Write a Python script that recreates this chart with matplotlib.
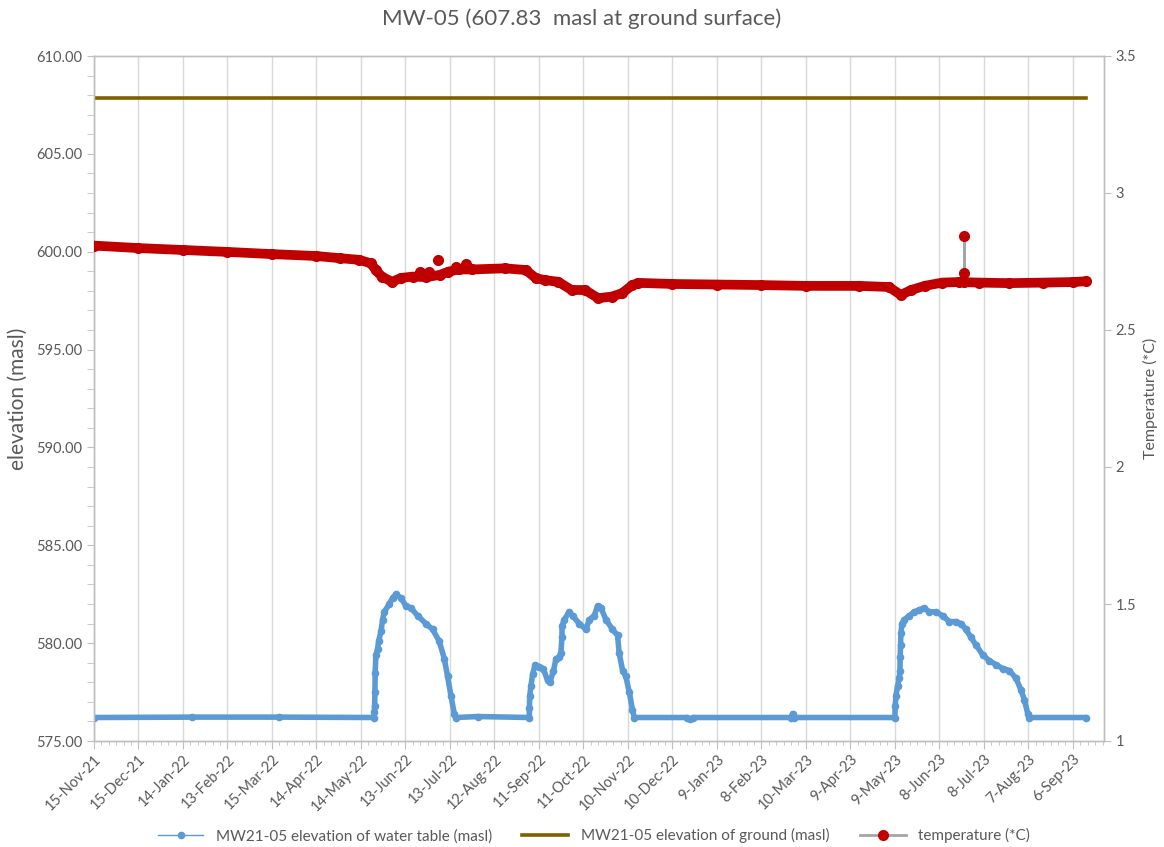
import matplotlib
matplotlib.use("Agg")
import matplotlib.pyplot as plt
import pandas as pd
from matplotlib.lines import Line2D
from matplotlib.ticker import FixedLocator, MultipleLocator, FuncFormatter

plt.rcParams['font.family'] = ['Lato', 'DejaVu Sans']

# water table elevation (masl)
wt_dates = ["2021-11-15", "2022-01-20", "2022-03-20", "2022-05-22 20:00",
            "2022-05-23 00:00", "2022-05-23 05:00", "2022-05-23 10:00", "2022-05-23 14:00",
            "2022-05-24 02:00", "2022-05-25 05:00", "2022-05-25 22:00", "2022-05-27 12:00",
            "2022-05-28 14:00", "2022-05-29 17:00", "2022-06-02 02:00", "2022-06-04 07:00",
            "2022-06-06 14:00", "2022-06-10 00:00", "2022-06-13 07:00", "2022-06-16 17:00",
            "2022-06-21 05:00", "2022-06-26 19:00", "2022-07-01 07:00", "2022-07-05 19:00",
            "2022-07-09 05:00", "2022-07-11 10:00", "2022-07-13 17:00", "2022-07-15 22:00",
            "2022-07-17 00:00", "2022-08-01", "2022-09-04 12:00",
            "2022-09-04 14:00", "2022-09-04 19:00", "2022-09-05 14:00", "2022-09-06 17:00",
            "2022-09-08 12:00", "2022-09-11 05:00", "2022-09-13 22:00", "2022-09-16 19:00",
            "2022-09-18 10:00", "2022-09-20 19:00", "2022-09-22 12:00", "2022-09-24 17:00",
            "2022-09-25 19:00", "2022-09-26 12:00", "2022-09-26 14:00", "2022-09-28 02:00",
            "2022-10-01 10:00", "2022-10-03 17:00", "2022-10-08 05:00", "2022-10-12 17:00",
            "2022-10-14 22:00", "2022-10-18 07:00", "2022-10-20 12:00", "2022-10-22 19:00",
            "2022-10-26 05:00", "2022-10-30 14:00", "2022-11-03 00:00", "2022-11-04 02:00",
            "2022-11-06 10:00", "2022-11-08 14:00", "2022-11-10 22:00", "2022-11-13 02:00",
            "2022-11-14 07:00", "2022-12-20", "2022-12-22", "2022-12-24", "2023-02-28",
            "2023-03-01", "2023-03-02", "2023-05-09 00:00",
            "2023-05-09 05:00", "2023-05-09 17:00", "2023-05-10 19:00", "2023-05-11 22:00",
            "2023-05-12 10:00", "2023-05-12 14:00", "2023-05-12 19:00", "2023-05-13 02:00",
            "2023-05-13 17:00", "2023-05-15 07:00", "2023-05-18 17:00", "2023-05-22 02:00",
            "2023-05-25 10:00", "2023-05-28 19:00", "2023-06-01 05:00", "2023-06-05 17:00",
            "2023-06-10 05:00", "2023-06-14 17:00", "2023-06-19 05:00", "2023-06-22 14:00",
            "2023-06-25 22:00", "2023-06-29 07:00", "2023-07-02 17:00", "2023-07-07 05:00",
            "2023-07-11 17:00", "2023-07-16 05:00", "2023-07-20 17:00", "2023-07-25 05:00",
            "2023-07-29 17:00", "2023-08-02 02:00", "2023-08-04 07:00", "2023-08-06 14:00",
            "2023-08-07 17:00", "2023-09-15"]
wt_vals = [576.20, 576.22, 576.22, 576.20,
           576.5, 576.8, 577.5, 578.5,
           579.4, 579.7, 580.1, 580.6,
           581.2, 581.6, 582.0, 582.3,
           582.5, 582.3, 581.9, 581.8,
           581.4, 581.0, 580.7, 580.1,
           579.2, 578.3, 577.3, 576.4,
           576.2, 576.25, 576.2,
           576.7, 577.3, 577.8, 578.4,
           578.9, 578.8, 578.7, 578.1,
           578.0, 578.6, 579.2, 579.3,
           579.5, 580.3, 580.9, 581.2,
           581.6, 581.4, 581.0, 580.7,
           581.2, 581.4, 581.9, 581.8,
           581.2, 580.7, 580.4, 579.5,
           578.6, 578.3, 577.5, 576.6,
           576.2, 576.2, 576.1, 576.2, 576.2,
           576.4, 576.2, 576.2,
           576.8, 577.3, 577.8, 578.2,
           578.6, 579.3, 579.9, 580.5,
           581.0, 581.2, 581.4, 581.6,
           581.7, 581.8, 581.6, 581.6,
           581.4, 581.1, 581.1, 581.0,
           580.7, 580.3, 579.9, 579.4,
           579.1, 578.9, 578.7, 578.6,
           578.2, 577.6, 577.1, 576.4,
           576.2, 576.2]

# ground surface elevation (masl)
gr_dates = ["2021-11-15", "2023-09-15"]
gr_vals = [607.83, 607.83]

# temperature (*C), right axis
t_dates = ["2021-11-15", "2021-12-15", "2022-01-14", "2022-02-13", "2022-03-15",
           "2022-04-14", "2022-04-30", "2022-05-13", "2022-05-20 17:00", "2022-05-24",
           "2022-05-28", "2022-06-04", "2022-06-10", "2022-06-18", "2022-06-27",
           "2022-07-06", "2022-07-12", "2022-07-19", "2022-07-28", "2022-08-19",
           "2022-09-02", "2022-09-09", "2022-09-15", "2022-09-24", "2022-10-03",
           "2022-10-12", "2022-10-21", "2022-10-30", "2022-11-06", "2022-11-13",
           "2022-11-17", "2022-12-10", "2023-01-09", "2023-02-08", "2023-03-10",
           "2023-04-15", "2023-05-05", "2023-05-13", "2023-05-20", "2023-05-29",
           "2023-06-10", "2023-06-21", "2023-07-05", "2023-07-25", "2023-08-17",
           "2023-09-06", "2023-09-15"]
t_vals = [2.808, 2.799, 2.792, 2.785, 2.777,
          2.770, 2.762, 2.756, 2.743, 2.719,
          2.695, 2.676, 2.690, 2.695, 2.693,
          2.701, 2.713, 2.721, 2.721, 2.725,
          2.719, 2.689, 2.682, 2.676, 2.646,
          2.646, 2.616, 2.622, 2.634, 2.664,
          2.672, 2.668, 2.666, 2.664, 2.661,
          2.661, 2.657, 2.628, 2.646, 2.661,
          2.673, 2.675, 2.673, 2.671, 2.673,
          2.675, 2.678]

# isolated temperature readings standing off the trend
blip_dates = ["2022-06-23", "2022-06-29", "2022-07-05", "2022-07-17", "2022-07-24"]
blip_vals = [2.712, 2.710, 2.755, 2.731, 2.740]

# the June 2023 spike
spike_dates = ["2023-06-24 19:00", "2023-06-24 19:00", "2023-06-24 19:00"]
spike_vals = [2.675, 2.843, 2.707]

blue = "#5B9BD5"
brown = "#7F6000"
red = "#C00000"
gray_line = "#A5A5A5"
txt = "#595959"
axis_col = "#BFBFBF"

fig = plt.figure(figsize=(11.64, 8.47), dpi=100)
ax = fig.add_axes([94 / 1164, 1 - 741 / 847, (1104 - 94) / 1164, (741 - 56) / 847])
ax2 = ax.twinx()

wd = pd.to_datetime(wt_dates, format="mixed")
ax.plot(wd, wt_vals, color=blue, lw=4.0, solid_capstyle="round", solid_joinstyle="round", zorder=3)
ax.plot(wd, wt_vals, color=blue, lw=1, marker="o", ms=4.5, zorder=4)
ax.plot(pd.to_datetime(gr_dates), gr_vals, color=brown, lw=2.6, zorder=3)

td = pd.to_datetime(t_dates, format="mixed")
sd = pd.to_datetime(spike_dates, format="mixed")
ax2.plot(sd, spike_vals, color=gray_line, lw=1.8, zorder=2)
ax2.plot(td, t_vals, color=red, lw=7, solid_capstyle="round", solid_joinstyle="round", zorder=3)
ax2.plot(td, t_vals, color=red, lw=0, marker="o", ms=7, zorder=4)
ax2.plot(pd.to_datetime(blip_dates), blip_vals, color=red, lw=0, marker="o", ms=7, zorder=4)
ax2.plot(sd, spike_vals, color=red, lw=0, marker="o", ms=7, zorder=4)

start = pd.Timestamp("2021-11-15")
ax.set_xlim(start, pd.Timestamp("2023-09-27"))
ax.set_ylim(575, 610)
ax2.set_ylim(1, 3.5)

major = pd.date_range(start, periods=23, freq="30D")
minor = pd.date_range(start, pd.Timestamp("2023-09-27"), freq="5D")
ax.xaxis.set_major_locator(FixedLocator(matplotlib.dates.date2num(major)))
ax.xaxis.set_minor_locator(FixedLocator(matplotlib.dates.date2num(minor)))
ax.xaxis.set_major_formatter(FuncFormatter(
    lambda v, p: (lambda d: f"{d.day}-{d.strftime('%b-%y')}")(matplotlib.dates.num2date(v))))
ax.yaxis.set_major_locator(MultipleLocator(5))
ax.yaxis.set_minor_locator(MultipleLocator(1))
ax.yaxis.set_major_formatter(FuncFormatter(lambda v, p: f"{v:.2f}"))
ax2.yaxis.set_major_locator(MultipleLocator(0.5))
ax2.yaxis.set_major_formatter(FuncFormatter(lambda v, p: f"{v:g}"))

ax.grid(axis="x", which="major", color="#D9D9D9", lw=1)
ax.set_axisbelow(True)

for a in (ax, ax2):
    for s in a.spines.values():
        s.set_color(axis_col)
        s.set_linewidth(1)
ax.tick_params(axis="both", which="both", colors=axis_col, labelcolor=txt, labelsize=10.5, direction="out")
ax.tick_params(axis="x", which="major", length=6, pad=2)
ax.tick_params(axis="x", which="minor", length=3)
ax.tick_params(axis="y", which="major", length=5)
ax.tick_params(axis="y", which="minor", length=5)
ax2.tick_params(axis="y", colors=axis_col, labelcolor=txt, labelsize=10.5, length=5, direction="out")
plt.setp(ax.get_xticklabels(), rotation=45, ha="right", rotation_mode="anchor")

ax.set_ylabel("elevation (masl)", fontsize=15, color=txt, labelpad=6)
ax2.set_ylabel("Temperature (*C)", fontsize=11.5, color=txt, labelpad=5)

fig.text(0.5, 1 - 19 / 847, "MW-05 (607.83  masl at ground surface)", ha="center", va="center",
         fontsize=16, color=txt)

handles = [Line2D([], [], color=blue, lw=1, marker="o", ms=4.5),
           Line2D([], [], color=brown, lw=2.6),
           Line2D([], [], color=gray_line, lw=2, marker="o", ms=7, mfc=red, mec=red)]
labels = ["MW21-05 elevation of water table (masl)", "MW21-05 elevation of ground (masl)",
          "temperature (*C)"]
fig.legend(handles, labels, loc="lower center", bbox_to_anchor=(0.51, -0.012), ncol=3,
           frameon=False, fontsize=11, labelcolor=txt, handlelength=3, columnspacing=2.0)

fig.savefig("out.png", dpi=100)
